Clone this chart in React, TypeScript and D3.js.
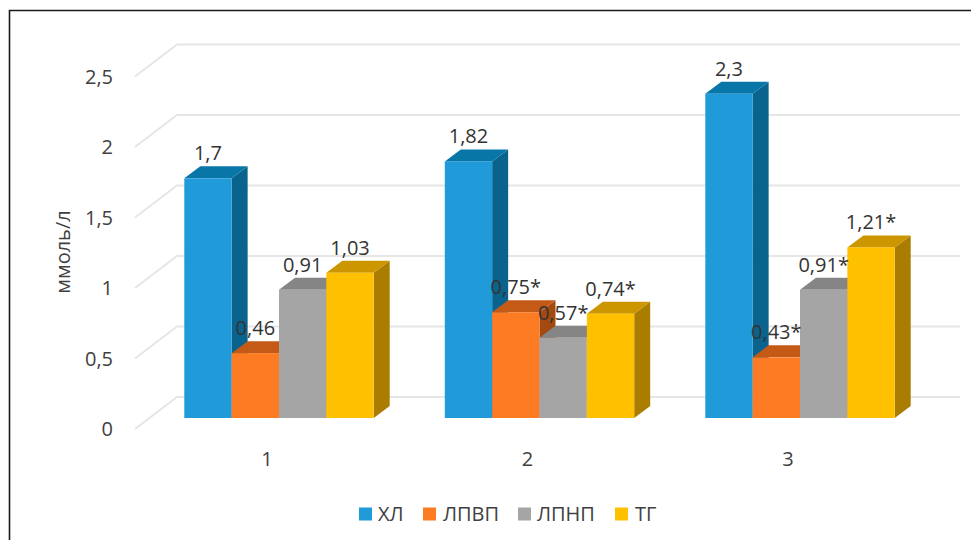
import React from "react";
import * as d3 from "d3";

const categories = ["1", "2", "3"];
const seriesNames = ["ХЛ", "ЛПВП", "ЛПНП", "ТГ"];
const holValues = [1.7, 1.82, 2.3];
const hdlValues = [0.46, 0.75, 0.43];
const ldlValues = [0.91, 0.57, 0.91];
const tgValues = [1.03, 0.74, 1.21];
const holLabels = ["1,7", "1,82", "2,3"];
const hdlLabels = ["0,46", "0,75*", "0,43*"];
const ldlLabels = ["0,91", "0,57*", "0,91*"];
const tgLabels = ["1,03", "0,74*", "1,21*"];
const yTicks = [0, 0.5, 1, 1.5, 2, 2.5];
const yTickLabels = ["0", "0,5", "1", "1,5", "2", "2,5"];
const faceColors = ["#209ad9", "#fd7b22", "#a5a5a5", "#ffc000"];
const topColors = ["#0877a8", "#c55a17", "#858585", "#cc9600"];
const sideColors = ["#0a638c", "#a34a12", "#6e6e6e", "#aa7d00"];

const FONT = "'Open Sans', sans-serif";
const TEXT = "#404040";
const GRID = "#e6e6e6";

// Oblique projection used for the pseudo-3D bars and the floor
const barDepth = { dx: 16, dy: 12 };
const wallDepth = { dx: 42, dy: 32 };

const y = d3.scaleLinear().domain([0, 2.5]).range([418, 65.5]);
const groupX = d3.scalePoint<string>().domain(categories).range([279, 800]);
const seriesX = d3.scaleBand<string>().domain(seriesNames).range([-94.7, 94.7]);

const valueRows = [holValues, hdlValues, ldlValues, tgValues];
const labelRows = [holLabels, hdlLabels, ldlLabels, tgLabels];

const pts = (list: [number, number][]) => list.map((p) => p.join(",")).join(" ");

const legendItems = [
  { x: 359, tx: 378 },
  { x: 423, tx: 443 },
  { x: 518, tx: 537 },
  { x: 615, tx: 635 },
];

export default function App() {
  return (
    <svg
      width={971}
      height={540}
      style={{ position: "absolute", left: 0, top: 0, background: "#fff" }}
      fontFamily={FONT}
    >
      <path d="M9.5 540V10.5H971" fill="none" stroke="#1a1a1a" strokeWidth={1.6} />

      {/* Back wall and floor gridlines */}
      {yTicks.map((t) => (
        <path
          key={t}
          fill="none"
          stroke={GRID}
          strokeWidth={2}
          d={`M135 ${y(t) + 11}L${135 + wallDepth.dx} ${y(t) + 11 - wallDepth.dy}H960`}
        />
      ))}

      {yTicks.map((t, i) => (
        <text
          key={t}
          x={113}
          y={y(t) + 11}
          dy="0.35em"
          textAnchor="end"
          fontSize={20}
          fill={TEXT}
        >
          {yTickLabels[i]}
        </text>
      ))}

      <text
        transform="translate(63,252) rotate(-90)"
        textAnchor="middle"
        dy="0.35em"
        fontSize={20}
        fill={TEXT}
      >
        ммоль/л
      </text>

      {/* Bars, painted left to right so each front face covers its neighbour's side */}
      {categories.map((c, ci) => (
        <g key={c}>
          {seriesNames.map((s, si) => {
            const x0 = groupX(c)! + seriesX(s)!;
            const x1 = x0 + seriesX.bandwidth();
            const yt = y(valueRows[si][ci]);
            const yb = y(0);
            const { dx, dy } = barDepth;
            return (
              <g key={s}>
                <polygon
                  fill={sideColors[si]}
                  points={pts([[x1, yt], [x1 + dx, yt - dy], [x1 + dx, yb - dy], [x1, yb]])}
                />
                <polygon
                  fill={topColors[si]}
                  points={pts([[x0, yt], [x0 + dx, yt - dy], [x1 + dx, yt - dy], [x1, yt]])}
                />
                <rect x={x0} y={yt} width={x1 - x0} height={yb - yt} fill={faceColors[si]} />
              </g>
            );
          })}
        </g>
      ))}

      {/* Value labels stay above every bar */}
      {categories.map((c, ci) =>
        seriesNames.map((s, si) => {
          const cx = groupX(c)! + seriesX(s)! + seriesX.bandwidth() / 2;
          return (
            <text
              key={s}
              x={cx}
              y={y(valueRows[si][ci]) - barDepth.dy - 6}
              textAnchor="middle"
              fontSize={20}
              fill="#333333"
            >
              {labelRows[si][ci]}
            </text>
          );
        })
      )}

      {categories.map((c) => (
        <text
          key={c}
          x={groupX(c)! - 12}
          y={459}
          dy="0.35em"
          textAnchor="middle"
          fontSize={20}
          fill={TEXT}
        >
          {c}
        </text>
      ))}

      {seriesNames.map((s, i) => (
        <g key={s}>
          <rect x={legendItems[i].x} y={507.5} width={13} height={13} fill={faceColors[i]} />
          <text x={legendItems[i].tx} y={514} dy="0.35em" fontSize={20} fill={TEXT}>
            {s}
          </text>
        </g>
      ))}
    </svg>
  );
}
